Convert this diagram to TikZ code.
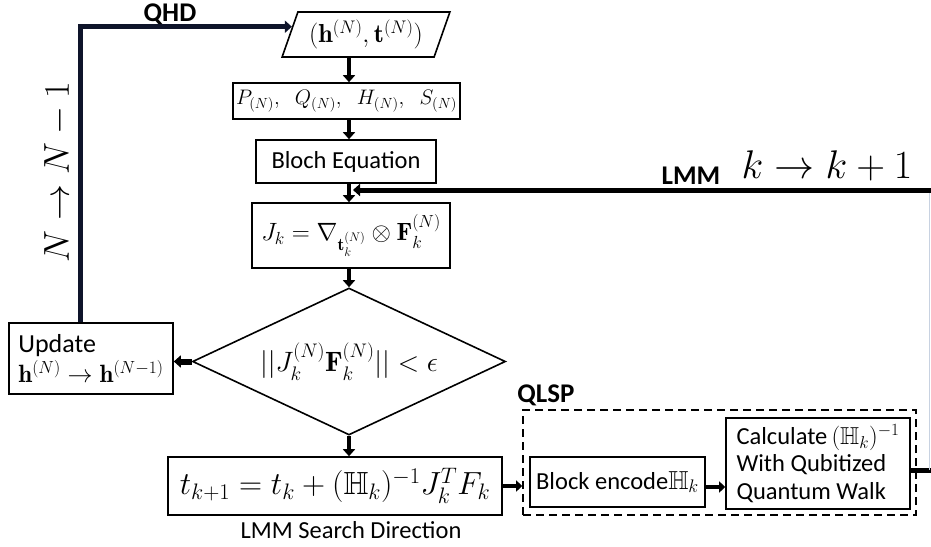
\RequirePackage{fix-cm}
\documentclass[tikz,border=0pt]{standalone}
\usepackage{amsmath,amssymb}
\usepackage{fontspec}
\newfontfamily\calib{Carlito}
\usetikzlibrary{arrows.meta,shapes.geometric,calc}
\definecolor{navy}{RGB}{14,20,42}
\definecolor{thinline}{RGB}{200,210,225}
\newcommand{\fs}[1]{\fontsize{#1}{#1}\selectfont}
\begin{document}
\begin{tikzpicture}[x=1pt,y=-1pt,
  box/.style={draw,line width=1.6pt,inner sep=0pt,align=center},
  sbox/.style={draw,line width=1.6pt,inner sep=0pt,align=left},
  vdown/.style={line width=4.5pt,-{Triangle[width=12pt,length=7pt]},black},
  bigline/.style={line width=5pt,black},
  lbl/.style={font={\calib\fs{24.5}}},
  blbl/.style={font={\calib\bfseries\fs{27}}}
]
\useasboundingbox (0,0) rectangle (931,546);
\coordinate (axis) at (349,0);
\coordinate (lx) at (80,0);
\coordinate (rt) at (931,190);
\coordinate (re) at (931,470);

% parallelogram input
\node[draw,line width=1.6pt,trapezium,trapezium left angle=66,trapezium right angle=114,
  trapezium stretches=true,minimum width=168pt,minimum height=45pt,inner sep=0pt]
  (inp) at (366,34.5) {\fs{26}$(\mathbf{h}^{(N)},\mathbf{t}^{(N)})$};

\node[box,minimum width=227pt,minimum height=36pt] (b2) at (346.5,101)
  {\fs{21}$P_{(N)},\;\; Q_{(N)},\;\; H_{(N)},\;\; S_{(N)}$};
\node[box,minimum width=180pt,minimum height=43pt,font={\calib\fs{24.5}}] (b3) at (346,161.5) {Bloch Equation};
\node[box,minimum width=198pt,minimum height=65pt] (b4) at (351,235.5)
  {\fs{25}$J_k=\nabla_{\mathbf{t}_k^{(N)}}\otimes\mathbf{F}_k^{(N)}$};
\node[draw,diamond,line width=1.6pt,aspect=2.13,minimum width=313pt,minimum height=147pt,inner sep=0pt]
  (dm) at (349,361.5) {\fs{28}$||J_k^{(N)}\mathbf{F}_k^{(N)}||<\epsilon$};
\node[sbox,minimum width=164pt,minimum height=71pt,inner xsep=6pt,
  font={\fontsize{25}{30}\selectfont}] (upd) at (91,358.5)
  {{\calib\fontsize{26}{30}\selectfont Update}\\ $\mathbf{h}^{(N)}\to\mathbf{h}^{(N-1)}$};
\node[box,minimum width=334pt,minimum height=58pt] (b6) at (335,486)
  {\fs{32}$t_{k+1}=t_k+(\mathbb{H}_k)^{-1}J_k^TF_k$};
\node[lbl] (lsd) at (351,530) {LMM Search Direction};

% QLSP
\node[draw,line width=1.6pt,dash pattern=on 8pt off 5pt,minimum width=393pt,minimum height=105pt] (qlsp) at (719.5,462.5) {};
\node[blbl] (qlab) at (546,395) {QLSP};
\node[box,minimum width=175pt,minimum height=50pt] (blk) at (617.5,482)
  {{\calib\fs{24.5}Block encode}\fs{26}$\mathbb{H}_k$};
\node[sbox,minimum width=184pt,minimum height=91pt,inner xsep=7pt,
  font={\calib\fontsize{24.5}{27.5}\selectfont}] (calc) at (818,463.5)
  {Calculate\,$(\mathbb{H}_k)^{-1}$\\
   With Qubitized\\
   Quantum Walk};

% labels
\node[blbl] (qhd) at (170,14) {QHD};
\node[blbl] (lmm) at (691,176) {LMM};
\node (kk) at (827,166) {\fs{40}$k\to k+1$};
\node[rotate=90] (nn) at (58,172) {\fs{36}$N\to N-1$};

% vertical arrows
\draw[vdown] (inp.south -| axis) -- (b2.north -| axis);
\draw[vdown] (b2.south -| axis) -- (b3.north -| axis);
\draw[vdown] (b3.south -| axis) -- (b4.north -| axis);
\draw[vdown] (b4.south -| axis) -- (dm.north);
\draw[vdown] (dm.south) -- (b6.north -| axis);
\draw[line width=6pt,-{Triangle[width=12pt,length=7pt]}] (dm.west) -- (upd.east |- dm.west);

% left loop
\draw[line width=5pt,navy,-{Triangle[width=12pt,length=7pt]}]
  (upd.north -| lx) |- ($(inp.bottom left corner)!0.667!(inp.top left corner)$);

% bottom chain
\draw[line width=4pt,-{Triangle[width=11pt,length=6pt]}] (b6.east) -- (qlsp.west |- b6.east);
\draw[line width=4pt,-{Triangle[width=11pt,length=6pt]}] ([yshift=-5pt]blk.east) -- ([yshift=-5pt]blk.east -| calc.west);

% right loop
\draw[bigline] ([yshift=-6.5pt]calc.east) -- (re);
\draw[line width=1pt,thinline] ($(re)+(-2,0)$) -- ($(rt)+(-2,0)$);
\draw[bigline,-{Triangle[width=12pt,length=7pt]}] (rt) -- ([xshift=4pt]rt -| axis);
\end{tikzpicture}
\end{document}
